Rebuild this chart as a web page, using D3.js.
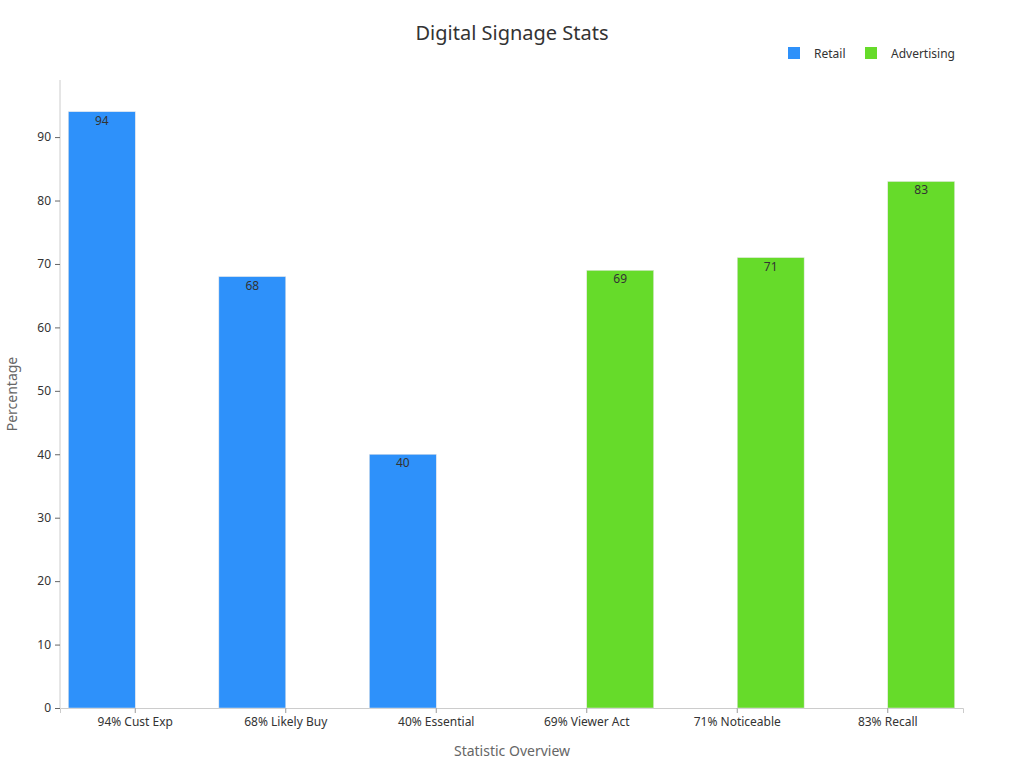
<!DOCTYPE html>
<html><head><meta charset="utf-8">
<script src="https://cdn.jsdelivr.net/npm/d3@7"></script>
<style>body{margin:0;background:#fff;font-family:"Noto Sans",sans-serif}</style>
</head><body><svg id="c" width="1024" height="768"></svg>
<script>
const categories=["94% Cust Exp","68% Likely Buy","40% Essential","69% Viewer Act","71% Noticeable","83% Recall"];
const seriesNames=["Retail","Advertising"];
const retail=[94,68,40,null,null,null];
const advertising=[null,null,null,69,71,83];
const colors=["#2e91fa","#66db2a"];
const yTicks=[0,10,20,30,40,50,60,70,80,90];

const svg=d3.select("#c");
const L=60,R=963,T=80,B=708;
const x=d3.scaleBand().domain(categories).range([L,R]);
const xs=d3.scaleBand().domain(seriesNames).range([0,x.bandwidth()]).paddingOuter(0.125).paddingInner(0);
const y=d3.scaleLinear().domain([0,99]).range([B,T]);

svg.append("text").attr("x",512).attr("y",40).attr("text-anchor","middle").attr("font-size",20).attr("fill","#333").text("Digital Signage Stats");

const ya=svg.append("g").attr("transform",`translate(${L},0)`).call(d3.axisLeft(y).tickValues(yTicks).tickSize(5).tickPadding(4));
ya.select(".domain").attr("stroke","#ccc").attr("d",`M0,${B}V${T}`);
ya.selectAll(".tick line").attr("stroke","#666");
ya.selectAll("text").attr("font-size",12).attr("fill","#333").attr("font-family","Noto Sans");

const xa=svg.append("g").attr("transform",`translate(0,${B})`).call(d3.axisBottom(x).tickSize(5).tickPadding(4));
xa.select(".domain").attr("stroke","#ccc");
xa.selectAll(".tick line").attr("stroke","#999");
xa.selectAll("text").attr("font-size",12).attr("fill","#333").attr("font-family","Noto Sans");

svg.append("text").attr("x",512).attr("y",756).attr("text-anchor","middle").attr("font-size",14).attr("fill","#666").text("Statistic Overview");
svg.append("text").attr("transform",`translate(17,394) rotate(-90)`).attr("text-anchor","middle").attr("font-size",14).attr("fill","#666").text("Percentage");

[retail,advertising].forEach((vals,si)=>{
  const g=svg.append("g");
  vals.forEach((v,i)=>{
    if(v==null)return;
    const bx=x(categories[i])+xs(seriesNames[si]);
    g.append("rect").attr("x",bx).attr("y",y(v)).attr("width",xs.bandwidth()).attr("height",B-y(v)).attr("fill",colors[si]).attr("stroke","#e6e6e6").attr("stroke-width",0.5);
    g.append("text").attr("x",bx+xs.bandwidth()/2).attr("y",y(v)+13).attr("text-anchor","middle").attr("font-size",12).attr("fill","#333").text(v);
  });
});

const leg=[{n:"Retail",x:788},{n:"Advertising",x:865}];
leg.forEach((d,i)=>{
  svg.append("rect").attr("x",d.x).attr("y",47).attr("width",12).attr("height",12).attr("fill",colors[i]);
  svg.append("text").attr("x",d.x+26).attr("y",58).attr("font-size",12).attr("fill","#333").text(d.n);
});
</script></body></html>
